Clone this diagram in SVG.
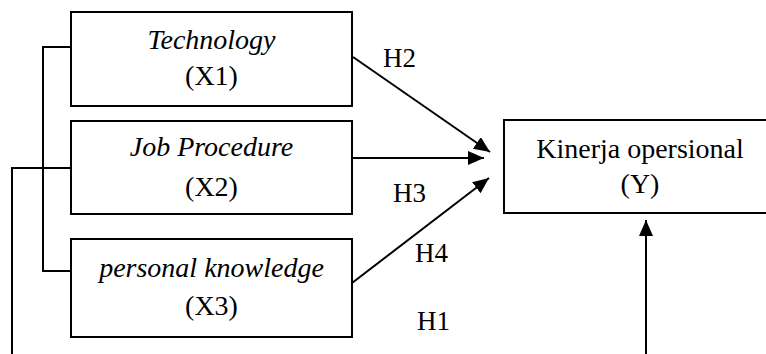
<svg xmlns="http://www.w3.org/2000/svg" width="766" height="354" viewBox="0 0 766 354">
  <style>
    .box { fill: #ffffff; stroke: #000000; stroke-width: 2; }
    .line { fill: none; stroke: #000000; stroke-width: 2; }
    .t { font-family: "Liberation Serif", "Times New Roman", serif; font-size: 28px; fill: #000000; text-anchor: middle; }
    .it { font-style: italic; }
    .lbl { font-family: "Liberation Serif", "Times New Roman", serif; font-size: 27px; fill: #000000; }
  </style>
  <defs>
    <marker id="arrow" markerUnits="userSpaceOnUse" markerWidth="18" markerHeight="16" refX="16" refY="7" orient="auto">
      <path d="M0,0 L16,7 L0,14 Z" fill="#000000"/>
    </marker>
  </defs>
  <rect width="766" height="354" fill="#ffffff"/>

  <g id="connectors">
    <path class="line" d="M71,47 H43 V271 H71"/>
    <path class="line" d="M71,168 H12 V358 H646 V220" marker-end="url(#arrow)"/>
    <line class="line" x1="353" y1="57" x2="490" y2="152" marker-end="url(#arrow)"/>
    <line class="line" x1="352" y1="158" x2="484" y2="158" marker-end="url(#arrow)"/>
    <line class="line" x1="352" y1="283" x2="489" y2="178" marker-end="url(#arrow)"/>
    <text class="lbl" x="383" y="67">H2</text>
    <text class="lbl" x="393" y="202">H3</text>
    <text class="lbl" x="415" y="262">H4</text>
    <text class="lbl" x="417" y="330">H1</text>
  </g>

  <g id="x1">
    <rect class="box" x="71" y="12" width="281" height="94"/>
    <text class="t it" x="211.5" y="49">Technology</text>
    <text class="t" x="211.5" y="85">(X1)</text>
  </g>
  <g id="x2">
    <rect class="box" x="71" y="121" width="281" height="93"/>
    <text class="t it" x="211.5" y="156">Job Procedure</text>
    <text class="t" x="211.5" y="196">(X2)</text>
  </g>
  <g id="x3">
    <rect class="box" x="71" y="239" width="281" height="98"/>
    <text class="t it" x="211.5" y="277">personal knowledge</text>
    <text class="t" x="211.5" y="315">(X3)</text>
  </g>
  <g id="y">
    <rect class="box" x="504" y="120" width="280" height="93"/>
    <text class="t" x="640" y="158">Kinerja opersional</text>
    <text class="t" x="640" y="193">(Y)</text>
  </g>
</svg>
